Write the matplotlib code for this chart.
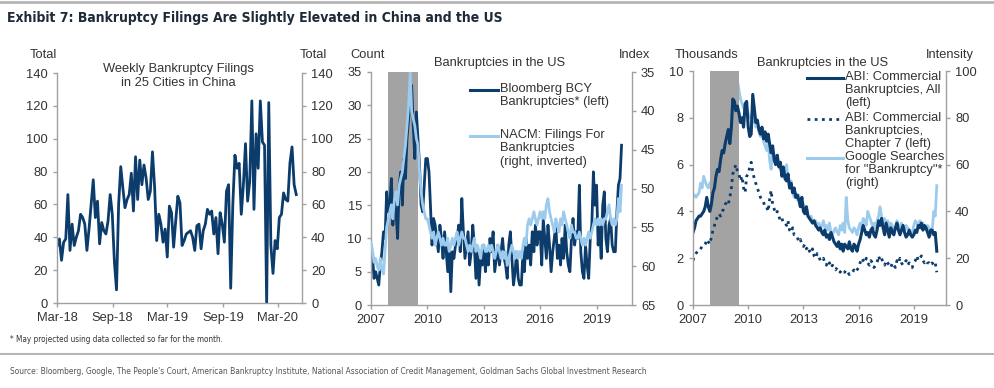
import matplotlib
matplotlib.use("Agg")
import matplotlib.pyplot as plt
import matplotlib.dates as mdates
from matplotlib import font_manager
import pandas as pd
import numpy as np

# ---------------- data ----------------
china_start = "2018-03-02"
china_weekly = [35, 39, 26, 37, 39, 66, 32, 48, 35, 40,
                44, 54, 52, 48, 32, 45, 60, 75, 52, 62,
                36, 49, 44, 42, 50, 66, 54, 25, 8, 60,
                83, 70, 58, 63, 66, 79, 56, 89, 63, 87,
                72, 84, 76, 63, 68, 92, 71, 38, 54, 48,
                37, 45, 28, 59, 55, 34, 50, 65, 61, 35,
                38, 42, 43, 44, 40, 32, 47, 48, 33, 44,
                48, 57, 54, 56, 42, 52, 30, 55, 48, 37,
                68, 72, 9, 60, 90, 82, 85, 54, 72, 97,
                62, 74, 123, 57, 103, 82, 123, 98, 96, 0,
                122, 35, 18, 38, 33, 52, 54, 67, 63, 62,
                85, 95, 72, 66]
china_ticks = ["2018-03-01", "2018-09-01", "2019-03-01", "2019-09-01", "2020-03-01"]

us_start = "2007-01-01"
bloomberg_bcy = [9, 7, 4, 5, 4, 3, 6, 8, 11, 10, 17, 14,
                 15, 19, 12, 16, 14, 10, 18, 20, 15, 22, 19, 25,
                 28, 30, 33, 27, 22, 29, 25, 21, 15, 14, 18, 22,
                 22, 20, 15, 9, 13, 12, 10, 8, 12, 10, 7, 11,
                 8, 5, 9, 2, 8, 7, 9, 10, 12, 8, 16, 11,
                 7, 9, 11, 6, 8, 12, 9, 4, 8, 3, 7, 6,
                 9, 5, 8, 6, 10, 8, 11, 5, 7, 9, 6, 8,
                 10, 7, 6, 4, 9, 11, 7, 3, 5, 8, 4, 3,
                 3, 8, 5, 10, 7, 9, 6, 11, 8, 12, 9, 11,
                 11, 6, 13, 10, 7, 12, 9, 5, 8, 10, 12, 7,
                 9, 6, 10, 7, 12, 8, 6, 5, 10, 13, 9, 11,
                 10, 18, 8, 5, 4, 9, 6, 4, 10, 12, 20, 15,
                 18, 9, 12, 7, 15, 17, 10, 8, 12, 13, 9, 8,
                 8, 14, 18, 19, 24]
nacm_index = [57.0, 58.0, 59.5, 59.0, 60.0, 60.5, 59.0, 60.5, 61.0, 58.0, 55.0, 54.0,
              53.0, 52.1, 53.9, 51.3, 50.4, 52.1, 49.6, 48.7, 47.9, 46.1, 44.4, 41.9,
              39.3, 35.0, 40.1, 41.0, 41.9, 43.6, 44.4, 47.9, 50.4, 52.1, 53.0, 53.9,
              53.9, 54.7, 55.6, 56.4, 55.6, 57.3, 56.4, 55.6, 56.4, 57.3, 56.4, 57.3,
              57.3, 56.4, 58.1, 57.3, 56.4, 57.3, 56.4, 55.6, 57.3, 56.4, 55.6, 56.4,
              56.4, 57.3, 58.1, 57.3, 58.1, 57.3, 56.4, 58.1, 57.3, 58.1, 59.0, 57.3,
              57.3, 58.1, 58.1, 57.3, 58.1, 57.3, 58.1, 59.0, 58.1, 57.3, 58.1, 59.0,
              58.1, 59.0, 58.1, 59.9, 59.0, 58.1, 57.3, 58.1, 59.0, 58.1, 59.0, 58.1,
              59.0, 57.3, 56.4, 57.3, 54.7, 53.9, 54.7, 53.9, 53.0, 53.9, 54.7, 53.9,
              53.0, 53.9, 53.0, 53.9, 52.1, 51.3, 53.0, 53.9, 54.7, 55.6, 53.9, 54.7,
              55.6, 53.9, 54.7, 53.0, 53.9, 54.7, 55.6, 56.4, 54.7, 55.6, 55.6, 56.4,
              56.4, 55.6, 56.4, 57.3, 56.4, 57.3, 56.4, 55.6, 56.4, 55.6, 54.7, 53.9,
              54.7, 53.9, 54.7, 53.9, 54.7, 53.9, 53.9, 53.0, 52.1, 53.9, 54.7, 53.9,
              54.7, 53.9, 51.3, 53.0, 49.6]

abi_all = [3.1, 3.3, 3.6, 3.7, 3.8, 3.8, 3.9, 4.0, 4.2, 4.6, 4.2, 4.0,
           4.3, 4.8, 5.0, 5.5, 5.8, 5.7, 6.2, 6.6, 6.5, 6.9, 7.2, 7.5,
           6.9, 7.6, 8.8, 8.7, 8.3, 8.5, 8.2, 7.8, 8.0, 7.6, 8.6, 8.7,
           7.6, 7.2, 7.3, 9.0, 8.4, 7.8, 7.9, 7.5, 7.3, 7.6, 7.1, 7.4,
           7.0, 7.3, 6.9, 6.5, 6.8, 6.2, 6.0, 6.4, 5.9, 6.1, 5.5, 5.9,
           5.4, 5.3, 5.6, 5.0, 5.2, 4.8, 5.0, 4.6, 4.7, 4.5, 4.2, 4.6,
           4.0, 3.9, 4.2, 3.8, 3.7, 3.6, 3.5, 3.6, 3.4, 3.3, 3.2, 3.3,
           3.1, 3.0, 3.2, 2.9, 3.0, 2.8, 3.1, 2.9, 2.7, 2.6, 2.5, 2.7,
           2.4, 2.6, 2.3, 2.6, 2.5, 2.4, 2.7, 2.4, 2.3, 2.6, 2.5, 2.3,
           2.6, 2.8, 3.1, 3.4, 3.2, 3.0, 3.1, 2.9, 3.2, 3.3, 3.0, 2.9,
           3.2, 3.6, 3.4, 3.7, 3.3, 3.0, 3.5, 3.2, 2.9, 3.3, 3.1, 3.0,
           3.3, 3.5, 3.2, 3.0, 3.2, 3.4, 3.1, 2.9, 3.0, 3.2, 3.0, 2.9,
           3.0, 3.2, 3.1, 3.4, 3.3, 3.5, 3.2, 3.4, 3.3, 3.1, 2.9, 3.2,
           3.2, 3.0, 3.1, 2.3]
abi_ch7 = [1.9, 2.1, 2.2, 2.3, 2.3, 2.4, 2.5, 2.5, 2.6, 2.8, 2.7, 2.6,
           2.9, 3.2, 3.4, 3.6, 3.8, 3.9, 3.8, 4.0, 4.1, 4.3, 4.4, 4.3,
           4.6, 5.0, 5.6, 5.8, 6.0, 5.7, 5.6, 5.3, 5.5, 5.0, 4.8, 5.5,
           5.6, 5.9, 6.1, 5.7, 5.4, 5.2, 5.0, 4.8, 4.6, 4.5, 4.4, 4.2,
           4.2, 4.0, 4.5, 4.9, 4.3, 4.1, 3.9, 4.0, 3.8, 3.6, 3.7, 3.5,
           3.5, 3.4, 3.6, 3.2, 3.1, 3.3, 3.0, 3.0, 2.9, 2.7, 2.8, 2.6,
           2.5, 2.6, 2.4, 2.5, 2.3, 2.2, 2.4, 2.1, 2.0, 2.2, 2.1, 1.9,
           1.9, 2.0, 1.8, 1.7, 1.9, 1.8, 1.6, 1.7, 1.6, 1.5, 1.6, 1.5,
           1.4, 1.5, 1.4, 1.4, 1.5, 1.4, 1.3, 1.4, 1.4, 1.5, 1.4, 1.5,
           1.6, 1.8, 2.0, 1.9, 1.8, 2.0, 1.8, 1.7, 1.9, 1.8, 1.6, 1.7,
           1.8, 2.1, 1.9, 2.0, 1.8, 1.7, 1.9, 1.8, 1.7, 1.6, 1.8, 1.7,
           1.6, 1.9, 1.8, 2.0, 1.8, 1.7, 1.8, 1.9, 1.7, 1.8, 1.7, 1.6,
           1.8, 1.9, 2.1, 1.9, 2.0, 2.1, 1.9, 1.8, 1.9, 1.8, 1.8, 1.7,
           1.8, 1.7, 1.8, 1.4]
google_intensity = [47, 47, 46, 47, 48, 52, 50, 55, 53, 51, 50, 52,
                    53, 55, 58, 60, 63, 65, 68, 70, 73, 76, 80, 83,
                    86, 90, 94, 97, 100, 96, 92, 88, 86, 84, 83, 85,
                    82, 80, 81, 78, 80, 76, 77, 74, 72, 75, 70, 68,
                    66, 70, 62, 58, 66, 63, 64, 62, 60, 58, 56, 57,
                    55, 60, 54, 50, 53, 48, 46, 48, 45, 47, 44, 42,
                    43, 40, 41, 38, 37, 38, 36, 35, 36, 34, 35, 33,
                    34, 36, 33, 34, 32, 35, 31, 30, 32, 33, 31, 30,
                    34, 32, 35, 31, 46, 36, 33, 32, 31, 33, 32, 30,
                    33, 35, 32, 37, 36, 34, 40, 38, 36, 34, 35, 33,
                    36, 38, 42, 38, 35, 37, 34, 36, 33, 35, 34, 32,
                    33, 36, 34, 32, 35, 33, 31, 34, 33, 32, 30, 31,
                    34, 36, 35, 33, 36, 34, 35, 33, 32, 34, 33, 30,
                    32, 40, 38, 51]
recession = ("2007-12-01", "2009-06-30")
year_ticks = ["2007", "2010", "2013", "2016", "2019"]

# ---------------- style ----------------
DARK = "#0b3c6c"
LIGHT = "#9ccbee"
GRAY_SP = "#a0a0a0"
TXT = "#333333"
REC = "#a3a3a3"
plt.rcParams["font.family"] = ["Liberation Sans", "DejaVu Sans"]
FS = 9.3

# pick a condensed face if one is installed
names = {f.name for f in font_manager.fontManager.ttflist}
cond = [f for f in font_manager.fontManager.ttflist
        if f.name == "DejaVu Sans" and f.stretch == "condensed"]
if "Liberation Sans Narrow" in names:
    NARROW = dict(family=["Liberation Sans Narrow", "DejaVu Sans"])
    NSCALE = 1.16
elif cond:
    NARROW = dict(family=["DejaVu Sans"], fontstretch="condensed")
    NSCALE = 1.0
else:
    NARROW = dict(family=["Liberation Sans", "DejaVu Sans"])
    NSCALE = 0.95

W, H = 995, 388
fig = plt.figure(figsize=(W / 100, H / 100), dpi=100)


def px_axes(l, r, t, b):
    return fig.add_axes([l / W, (H - b) / H, (r - l) / W, (b - t) / H])


def style(ax):
    ax.spines["top"].set_visible(False)
    for s in ["left", "right", "bottom"]:
        ax.spines[s].set_color(GRAY_SP)
        ax.spines[s].set_linewidth(1.0)
    ax.tick_params(axis="both", colors=GRAY_SP, labelcolor=TXT, labelsize=FS,
                   length=3, width=1, direction="out")


# ---------------- panel 1 ----------------
ax1 = px_axes(57, 302, 73, 303)
d1 = pd.date_range(china_start, periods=len(china_weekly), freq="7D")
ax1.plot(d1, china_weekly, color=DARK, lw=2.0, solid_joinstyle="round")
ax1.set_ylim(0, 140)
ax1.set_yticks(range(0, 141, 20))
ax1.set_xlim(pd.Timestamp("2018-03-01"), pd.Timestamp("2020-05-20"))
ax1.set_xticks(pd.to_datetime(china_ticks))
ax1.xaxis.set_major_formatter(mdates.DateFormatter("%b-%y"))
style(ax1)
ax1.spines["right"].set_visible(False)
ax1b = ax1.twinx()
ax1b.set_ylim(0, 140)
ax1b.set_yticks(range(0, 141, 20))
style(ax1b)
ax1b.spines["left"].set_visible(False)
ax1b.spines["bottom"].set_visible(False)
fig.text(43 / W, 1 - 55 / H, "Total", ha="center", va="center", fontsize=FS, color=TXT)
fig.text(313 / W, 1 - 55 / H, "Total", ha="center", va="center", fontsize=FS, color=TXT)
fig.text(178 / W, 1 - 76 / H, "Weekly Bankruptcy Filings\nin 25 Cities in China",
         ha="center", va="center", fontsize=FS, color=TXT, linespacing=1.15)

# ---------------- panel 2 ----------------
ax2 = px_axes(371, 632, 72, 305)
d2 = pd.date_range(us_start, periods=len(bloomberg_bcy), freq="MS")
ax2.axvspan(pd.Timestamp(recession[0]), pd.Timestamp(recession[1]), color=REC, lw=0)
ax2.plot(d2, bloomberg_bcy, color=DARK, lw=2.0)
ax2.set_ylim(0, 35)
ax2.set_yticks(range(0, 36, 5))
ax2.set_xlim(pd.Timestamp("2007-01-01"), pd.Timestamp("2020-11-20"))
ax2.set_xticks(pd.to_datetime(year_ticks))
ax2.xaxis.set_major_formatter(mdates.DateFormatter("%Y"))
style(ax2)
ax2.spines["right"].set_visible(False)
ax2b = ax2.twinx()
d2b = pd.date_range(us_start, periods=len(nacm_index), freq="MS")
ax2b.plot(d2b, nacm_index, color=LIGHT, lw=2.0)
ax2b.set_ylim(65, 35)
ax2b.set_yticks(range(35, 66, 5))
style(ax2b)
ax2b.spines["left"].set_visible(False)
ax2b.spines["bottom"].set_visible(False)
fig.text(368 / W, 1 - 55 / H, "Count", ha="center", va="center", fontsize=FS, color=TXT)
fig.text(635 / W, 1 - 55 / H, "Index", ha="center", va="center", fontsize=FS, color=TXT)
fig.text(500 / W, 1 - 63 / H, "Bankruptcies in the US", ha="center", va="center",
         fontsize=FS, color=TXT)
fig.add_artist(plt.Line2D([470 / W, 498 / W], [1 - 90 / H] * 2, color=DARK, lw=2.2))
fig.text(500 / W, 1 - 83 / H, "Bloomberg BCY\nBankruptcies* (left)", ha="left", va="top",
         fontsize=FS, color=TXT, linespacing=1.15)
fig.add_artist(plt.Line2D([470 / W, 498 / W], [1 - 136 / H] * 2, color=LIGHT, lw=2.2))
fig.text(500 / W, 1 - 129 / H, "NACM: Filings For\nBankruptcies\n(right, inverted)",
         ha="left", va="top", fontsize=FS, color=TXT, linespacing=1.15)

# ---------------- panel 3 ----------------
ax3 = px_axes(693, 946, 71, 305)
d3 = pd.date_range(us_start, periods=len(abi_all), freq="MS")
ax3.axvspan(pd.Timestamp(recession[0]), pd.Timestamp(recession[1]), color=REC, lw=0)
ax3.plot(d3, abi_all, color=DARK, lw=2.2)
ax3.plot(d3, abi_ch7, color=DARK, lw=2.0, linestyle=(0, (1, 1.6)))
ax3.set_ylim(0, 10)
ax3.set_yticks(range(0, 11, 2))
ax3.set_xlim(pd.Timestamp("2007-01-01"), pd.Timestamp("2020-10-01"))
ax3.set_xticks(pd.to_datetime(year_ticks))
ax3.xaxis.set_major_formatter(mdates.DateFormatter("%Y"))
style(ax3)
ax3.spines["right"].set_visible(False)
ax3b = ax3.twinx()
d3b = pd.date_range(us_start, periods=len(google_intensity), freq="MS")
ax3b.plot(d3b, google_intensity, color=LIGHT, lw=2.0)
ax3b.set_ylim(0, 100)
ax3b.set_yticks(range(0, 101, 20))
style(ax3b)
ax3b.spines["left"].set_visible(False)
ax3b.spines["bottom"].set_visible(False)
ax3.set_zorder(ax3b.get_zorder() + 1)
ax3.patch.set_visible(False)
ax3b.patch.set_visible(True)
fig.text(707 / W, 1 - 55 / H, "Thousands", ha="center", va="center", fontsize=FS, color=TXT)
fig.text(950 / W, 1 - 55 / H, "Intensity", ha="center", va="center", fontsize=FS, color=TXT)
fig.text(823 / W, 1 - 63 / H, "Bankruptcies in the US", ha="center", va="center",
         fontsize=FS, color=TXT)
fig.add_artist(plt.Line2D([807 / W, 843 / W], [1 - 78 / H] * 2, color=DARK, lw=2.2))
fig.text(845 / W, 1 - 71 / H, "ABI: Commercial\nBankruptcies, All\n(left)", ha="left",
         va="top", fontsize=FS, color=TXT, linespacing=1.1)
fig.add_artist(plt.Line2D([807 / W, 843 / W], [1 - 119 / H] * 2, color=DARK, lw=2.0,
                          linestyle=(0, (1, 1.6))))
fig.text(845 / W, 1 - 112 / H, "ABI: Commercial\nBankruptcies,\nChapter 7 (left)", ha="left",
         va="top", fontsize=FS, color=TXT, linespacing=1.1)
fig.add_artist(plt.Line2D([807 / W, 843 / W], [1 - 158 / H] * 2, color=LIGHT, lw=2.2))
fig.text(845 / W, 1 - 151 / H, "Google Searches\nfor \"Bankruptcy\"*\n(right)", ha="left",
         va="top", fontsize=FS, color=TXT, linespacing=1.1)

# ---------------- titles & notes ----------------
fig.add_artist(plt.Line2D([0, 1], [1 - 2 / H] * 2, color="#b5b5b5", lw=2))
fig.text(7 / W, 1 - 18 / H, "Exhibit 7: Bankruptcy Filings Are Slightly Elevated in China and the US",
         ha="left", va="center", fontsize=10.0 * NSCALE, fontweight="bold", color="#1d2a38",
         **NARROW)
fig.text(10 / W, 1 - 340 / H, "* May projected using data collected so far for the month.",
         ha="left", va="center", fontsize=5.9 * NSCALE, color=TXT, **NARROW)
fig.add_artist(plt.Line2D([0, 1], [1 - 354 / H] * 2, color="#b5b5b5", lw=1.5))
fig.text(10 / W, 1 - 372 / H,
         "Source: Bloomberg, Google, The People's Court, American Bankruptcy Institute, National Association of Credit Management, Goldman Sachs Global Investment Research",
         ha="left", va="center", fontsize=6.0 * NSCALE, color="#555555", **NARROW)

fig.savefig("out.png", dpi=100)
